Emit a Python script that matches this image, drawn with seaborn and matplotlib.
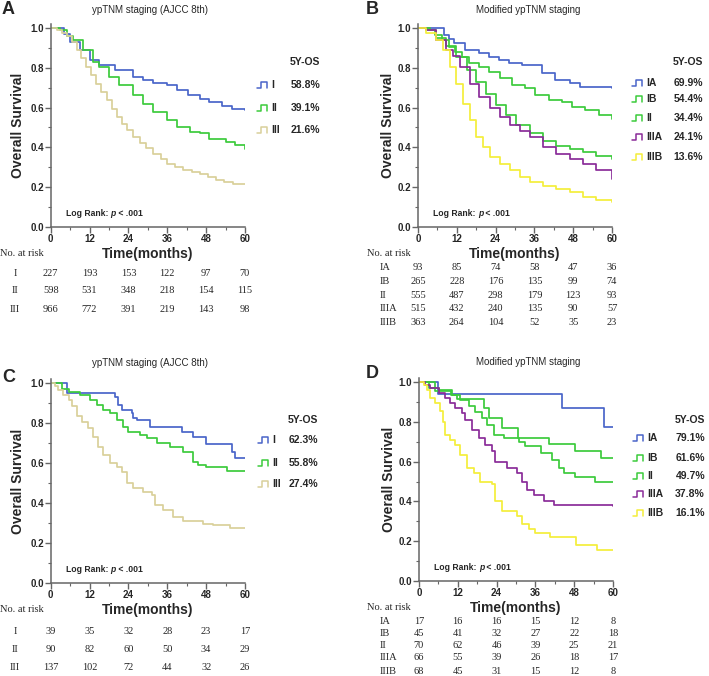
import matplotlib
matplotlib.use("Agg")
import matplotlib.pyplot as plt
from matplotlib.lines import Line2D
from matplotlib import transforms
from matplotlib.ticker import MultipleLocator
import pandas as pd
import seaborn as sns

# ----------------------------------------
# Data
# ----------------------------------------

months = [0, 12, 24, 36, 48, 60]

# Panel A: ypTNM staging (AJCC 8th), training cohort
a_groups = ["I", "II", "III"]
a_os = ["58.8%", "39.1%", "21.6%"]
a_I_t = [0, 4, 6, 9, 12, 15, 20, 25.5, 28.6, 31.7, 36, 39, 42.5, 46, 49, 53, 56, 60]
a_I_s = [1.0, 0.97, 0.93, 0.89, 0.84, 0.815, 0.79, 0.755, 0.74, 0.725, 0.715, 0.69,
         0.665, 0.645, 0.63, 0.61, 0.595, 0.588]
a_II_t = [0, 3, 5, 7, 10, 13, 15, 18, 21, 25.5, 28.6, 31.7, 36, 39, 43, 46, 49, 54, 57, 60]
a_II_s = [1.0, 0.99, 0.96, 0.94, 0.89, 0.83, 0.806, 0.756, 0.714, 0.663, 0.62, 0.58,
          0.537, 0.503, 0.478, 0.47, 0.444, 0.427, 0.41, 0.391]
a_III_t = [0, 2, 3.5, 5, 6.5, 8, 9.5, 11, 12.5, 14, 15.5, 17.3, 19, 20.4, 22, 23.5, 25.5,
           27.6, 29.5, 31.7, 34, 36, 38.5, 41, 43.5, 46, 48.5, 51, 53.5, 56.4, 60]
a_III_s = [1.0, 0.99, 0.975, 0.96, 0.93, 0.89, 0.85, 0.806, 0.765, 0.72, 0.68, 0.64, 0.595,
           0.554, 0.52, 0.486, 0.45, 0.42, 0.395, 0.368, 0.34, 0.318, 0.3, 0.284, 0.275,
           0.267, 0.25, 0.234, 0.225, 0.217, 0.216]
a_risk = [[227, 193, 153, 122, 97, 70],
          [598, 531, 348, 218, 154, 115],
          [966, 772, 391, 219, 143, 98]]

# Panel B: modified ypTNM staging, training cohort
b_groups = ["IA", "IB", "II", "IIIA", "IIIB"]
b_os = ["69.9%", "54.4%", "34.4%", "24.1%", "13.6%"]
b_IA_t = [0, 8, 9.5, 11, 14.6, 18.8, 21.9, 25, 28.1, 32.2, 38.4, 42.5, 47.1, 50.2, 60]
b_IA_s = [1.0, 0.965, 0.945, 0.923, 0.89, 0.873, 0.856, 0.84, 0.823, 0.814, 0.772, 0.739,
          0.722, 0.705, 0.699]
b_IB_t = [0, 3.6, 5.4, 7.5, 9.5, 11.5, 13.6, 15.7, 18.8, 21.9, 25.5, 29.1, 33.2, 36.3,
          40.4, 44.6, 47.7, 51.8, 56, 60]
b_IB_s = [1.0, 0.99, 0.965, 0.94, 0.906, 0.88, 0.856, 0.823, 0.806, 0.78, 0.747, 0.714,
          0.697, 0.663, 0.638, 0.63, 0.605, 0.588, 0.563, 0.544]
b_II_t = [0, 2.6, 5.7, 8.8, 11.9, 15, 18, 21, 24.2, 27.3, 30.4, 34.5, 38.7, 42.8, 47, 51, 55, 60]
b_II_s = [1.0, 0.99, 0.95, 0.91, 0.855, 0.79, 0.73, 0.67, 0.615, 0.565, 0.515, 0.47,
          0.43, 0.405, 0.39, 0.375, 0.355, 0.344]
b_IIIA_t = [0, 2.6, 5.7, 8.8, 10.8, 12.9, 16, 19, 22.2, 25.3, 28.4, 31.4, 34.5, 38.7,
            42.8, 47, 51, 55, 60]
b_IIIA_s = [1.0, 0.99, 0.94, 0.89, 0.857, 0.806, 0.72, 0.655, 0.6, 0.555, 0.515, 0.48,
            0.45, 0.4, 0.368, 0.343, 0.318, 0.284, 0.241]
b_IIIB_t = [0, 2.6, 5.7, 7.7, 9.8, 11.9, 13.9, 16, 18, 20, 22.2, 25.3, 28.4, 31.4, 34.5,
            38.7, 42.8, 47, 51, 55, 60]
b_IIIB_s = [1.0, 0.975, 0.94, 0.89, 0.806, 0.72, 0.62, 0.537, 0.452, 0.402, 0.35, 0.318,
            0.284, 0.25, 0.225, 0.208, 0.19, 0.175, 0.15, 0.136, 0.124]
b_risk = [[93, 85, 74, 58, 47, 36],
          [265, 228, 176, 135, 99, 74],
          [555, 487, 298, 179, 123, 93],
          [515, 432, 240, 135, 90, 57],
          [363, 264, 104, 52, 35, 23]]

# Panel C: ypTNM staging (AJCC 8th), validation cohort
c_groups = ["I", "II", "III"]
c_os = ["62.3%", "55.8%", "27.4%"]
c_I_t = [0, 4.9, 19.9, 20.9, 22, 25, 25.5, 26.5, 30.7, 40.4, 44, 48, 55.9, 57, 60]
c_I_s = [1.0, 0.95, 0.93, 0.89, 0.866, 0.85, 0.824, 0.816, 0.78, 0.757, 0.73, 0.695,
         0.657, 0.623, 0.623]
c_II_t = [0, 3.4, 5.5, 9, 12.1, 14.2, 16.3, 18.3, 20.4, 22.4, 24, 27.6, 29.6, 32.7, 36.8,
          41, 44, 45.6, 48, 54.3, 60]
c_II_s = [1.0, 0.97, 0.955, 0.94, 0.916, 0.89, 0.866, 0.85, 0.816, 0.78, 0.757, 0.74,
          0.724, 0.7, 0.68, 0.657, 0.607, 0.59, 0.578, 0.558, 0.558]
c_III_t = [0, 1.3, 2.4, 3.9, 5.5, 6.5, 8, 9.6, 11.6, 13.2, 14.7, 16.3, 18.3, 20.4, 21.9,
           23.5, 25.5, 28.6, 31.2, 32.2, 34.8, 37.9, 41, 47, 50, 55.3, 60]
c_III_s = [1.0, 0.983, 0.967, 0.94, 0.916, 0.883, 0.833, 0.807, 0.774, 0.732, 0.682, 0.64,
           0.598, 0.58, 0.556, 0.498, 0.473, 0.456, 0.44, 0.39, 0.364, 0.33, 0.31, 0.297,
           0.29, 0.277, 0.274]
c_risk = [[39, 35, 32, 28, 23, 17],
          [90, 82, 60, 50, 34, 29],
          [137, 102, 72, 44, 32, 26]]

# Panel D: modified ypTNM staging, validation cohort
d_groups = ["IA", "IB", "II", "IIIA", "IIIB"]
d_os = ["79.1%", "61.6%", "49.7%", "37.8%", "16.1%"]
d_IA_t = [0, 5.9, 44.2, 57.1, 60]
d_IA_s = [1.0, 0.94, 0.87, 0.775, 0.775]
d_IB_t = [0, 5, 10, 11.8, 20, 21.8, 25.7, 30.7, 40.3, 48.4, 56.3, 60]
d_IB_s = [1.0, 0.956, 0.935, 0.913, 0.868, 0.818, 0.767, 0.717, 0.688, 0.655, 0.62, 0.616]
d_II_t = [0, 3, 6.1, 10.2, 12.8, 15.4, 17.4, 19.5, 21, 23.1, 26.2, 30.9, 32.9, 37.6, 41.2,
          43.3, 44.8, 48.4, 54.4, 60]
d_II_s = [1.0, 0.97, 0.96, 0.935, 0.91, 0.88, 0.85, 0.818, 0.785, 0.735, 0.718, 0.7,
          0.676, 0.642, 0.609, 0.567, 0.542, 0.525, 0.497, 0.497]
d_IIIA_t = [0, 2, 3.5, 6.1, 8.1, 9.7, 11.2, 13.3, 14.3, 16.4, 18.5, 20.5, 22.6, 23.6, 27.2,
            30.3, 31.9, 33.4, 35.5, 38.6, 41.7, 60]
d_IIIA_s = [1.0, 0.985, 0.968, 0.943, 0.918, 0.893, 0.868, 0.843, 0.81, 0.76, 0.718, 0.685,
            0.651, 0.598, 0.568, 0.543, 0.5, 0.459, 0.434, 0.404, 0.38, 0.378]
d_IIIB_t = [0, 1.5, 2.5, 3.4, 5, 6.5, 7.4, 8, 9.6, 11.1, 12.7, 14.9, 16.9, 19, 22.6, 23.6,
            25.7, 30.3, 31.9, 33.9, 36, 40.4, 48.5, 55, 60]
d_IIIB_s = [1.0, 0.985, 0.96, 0.918, 0.893, 0.852, 0.8, 0.735, 0.71, 0.685, 0.634, 0.568,
            0.543, 0.5, 0.485, 0.4, 0.35, 0.326, 0.284, 0.259, 0.242, 0.22, 0.18, 0.156, 0.156]
d_risk = [[17, 16, 16, 15, 12, 8],
          [45, 41, 32, 27, 22, 18],
          [70, 62, 46, 39, 25, 21],
          [66, 55, 39, 26, 18, 17],
          [68, 45, 31, 15, 12, 8]]

stage_colors = {"I": "#4a65c9", "II": "#3ccb3c", "III": "#d9d09a",
                "IA": "#4a65c9", "IB": "#3ccb3c", "IIIA": "#8a2b99", "IIIB": "#f4ee3a"}

# ----------------------------------------
# Figure setup
# ----------------------------------------

sns.set_style("ticks")
plt.rcParams["font.family"] = ["Liberation Sans", "DejaVu Sans"]

W, H = 709, 676
fig = plt.figure(figsize=(W / 100, H / 100), dpi=100)


def fx(x):
    return x / W


def fy(y):
    return 1 - y / H


def draw_panel(x0, x60, y0, y1, groups, times, survs, os_vals, risk, letter, title, lay):
    per = (y0 - y1)
    top = y0 - 1.02 * per
    ax = fig.add_axes([fx(x0), fy(y0), (x60 - x0) / W, (y0 - top) / H])

    frames = []
    for g, t, s in zip(groups, times, survs):
        frames.append(pd.DataFrame({"time": t, "surv": s, "group": g}))
    df = pd.concat(frames, ignore_index=True)
    sns.lineplot(data=df, x="time", y="surv", hue="group", hue_order=groups,
                 palette=stage_colors, drawstyle="steps-post", estimator=None,
                 legend=False, linewidth=1.25, ax=ax)

    ax.set_xlim(0, 60)
    ax.set_ylim(0, 1.02)
    ax.set_xticks(months)
    ax.set_yticks([0, 0.2, 0.4, 0.6, 0.8, 1.0])
    ax.set_yticklabels(["0.0", "0.2", "0.4", "0.6", "0.8", "1.0"])
    ax.xaxis.set_minor_locator(MultipleLocator(6))
    ax.yaxis.set_minor_locator(MultipleLocator(0.1))
    for side in ["top", "right"]:
        ax.spines[side].set_visible(False)
    for side in ["left", "bottom"]:
        ax.spines[side].set_color("#666666")
        ax.spines[side].set_linewidth(1.1)
    ax.tick_params(which="major", length=4, width=1, color="#666666", pad=1)
    ax.tick_params(which="minor", length=2, width=0.8, color="#666666")
    for lab in ax.get_xticklabels() + ax.get_yticklabels():
        lab.set_fontweight("bold")
        lab.set_fontsize(7)
    ax.set_xlabel("")
    ax.set_ylabel("Overall Survival", fontsize=10, fontweight="bold", va="center")
    ax.yaxis.set_label_coords(-lay["ylab_off"] / (x60 - x0), 0.5)

    # panel letter and title
    fig.text(fx(lay["letter"][0]), fy(lay["letter"][1]), letter, fontsize=13,
             fontweight="bold", ha="left", va="center")
    fig.text(fx(lay["title"][0]), fy(lay["title"][1]), title, fontsize=7,
             ha="center", va="center")

    # log rank
    lr = fig.text(fx(x0 + 15), fy(y0 - 14), "Log Rank: ", fontsize=6.2, fontweight="bold",
                  ha="left", va="center")
    p = ax.annotate("p", xy=(1, 0), xycoords=lr, va="bottom", fontsize=6.2,
                    fontweight="bold", fontstyle="italic")
    ax.annotate(" < .001", xy=(1, 0), xycoords=p, va="bottom", fontsize=6.2,
                fontweight="bold")

    # legend with 5-year OS
    lx, pct_x, head_y, rows_y = lay["legend"]
    fig.text(fx(pct_x), fy(head_y), "5Y-OS", fontsize=7.5, fontweight="bold",
             ha="right", va="center")
    for g, v, ry in zip(groups, os_vals, rows_y):
        xs = [lx, lx + 4, lx + 4, lx + 10, lx + 10]
        ys = [ry + 3, ry + 3, ry - 3, ry - 3, ry + 3]
        fig.add_artist(Line2D([fx(x) for x in xs], [fy(y) for y in ys],
                              color=stage_colors[g], linewidth=1.1))
        fig.text(fx(lx + 14), fy(ry), g, fontsize=7.5, fontweight="bold",
                 ha="left", va="center")
        fig.text(fx(pct_x), fy(ry), v, fontsize=7.5, fontweight="bold",
                 ha="right", va="center")

    # x axis title
    fig.text(fx((x0 + x60) / 2), fy(lay["time_y"]), "Time(months)", fontsize=10,
             fontweight="bold", ha="center", va="center")

    # number at risk table
    serif = ["Liberation Serif", "DejaVu Serif"]
    fig.text(fx(lay["norisk_x"]), fy(lay["time_y"]), "No. at risk", fontsize=7.5,
             family=serif, ha="left", va="center")
    trans = transforms.blended_transform_factory(ax.transData, fig.transFigure)
    for g, counts, ry in zip(groups, risk, lay["risk_y"]):
        fig.text(fx(lay["label_x"]), fy(ry), g, fontsize=7.5, family=serif,
                 ha=lay["label_ha"], va="center")
        for m, n in zip(months, counts):
            ax.text(m, fy(ry), str(n), transform=trans, fontsize=7.5, family=serif,
                    ha="center", va="center", clip_on=False)
    return ax


draw_panel(50.7, 245, 227, 28, a_groups,
           [a_I_t, a_II_t, a_III_t], [a_I_s, a_II_s, a_III_s], a_os, a_risk,
           "A", "ypTNM staging (AJCC 8th)",
           {"letter": (2, 10), "title": (150, 10), "ylab_off": 33,
            "legend": (257, 320, 62, [85, 108, 130]),
            "time_y": 254, "norisk_x": 0, "label_x": 15, "label_ha": "center",
            "risk_y": [273, 291, 310]})

draw_panel(418, 612, 227, 28, b_groups,
           [b_IA_t, b_IB_t, b_II_t, b_IIIA_t, b_IIIB_t],
           [b_IA_s, b_IB_s, b_II_s, b_IIIA_s, b_IIIB_s], b_os, b_risk,
           "B", "Modified ypTNM staging",
           {"letter": (366, 9), "title": (528, 10), "ylab_off": 30,
            "legend": (632, 703, 62, [83, 99, 118, 137, 157]),
            "time_y": 254, "norisk_x": 367, "label_x": 380, "label_ha": "left",
            "risk_y": [268, 282, 296, 309, 323]})

draw_panel(50.7, 245, 583, 383, c_groups,
           [c_I_t, c_II_t, c_III_t], [c_I_s, c_II_s, c_III_s], c_os, c_risk,
           "C", "ypTNM staging (AJCC 8th)",
           {"letter": (2, 377), "title": (150, 363), "ylab_off": 33,
            "legend": (258, 318, 420, [440, 463, 484]),
            "time_y": 610, "norisk_x": 0, "label_x": 15, "label_ha": "center",
            "risk_y": [631, 649, 668]})

draw_panel(419, 613, 581, 382, d_groups,
           [d_IA_t, d_IB_t, d_II_t, d_IIIA_t, d_IIIB_t],
           [d_IA_s, d_IB_s, d_II_s, d_IIIA_s, d_IIIB_s], d_os, d_risk,
           "D", "Modified ypTNM staging",
           {"letter": (366, 373), "title": (528, 362), "ylab_off": 30,
            "legend": (633, 705, 420, [438, 458, 476, 494, 513]),
            "time_y": 608, "norisk_x": 367, "label_x": 380, "label_ha": "left",
            "risk_y": [621, 633, 645, 658, 672]})

fig.savefig("out.png", dpi=100)
